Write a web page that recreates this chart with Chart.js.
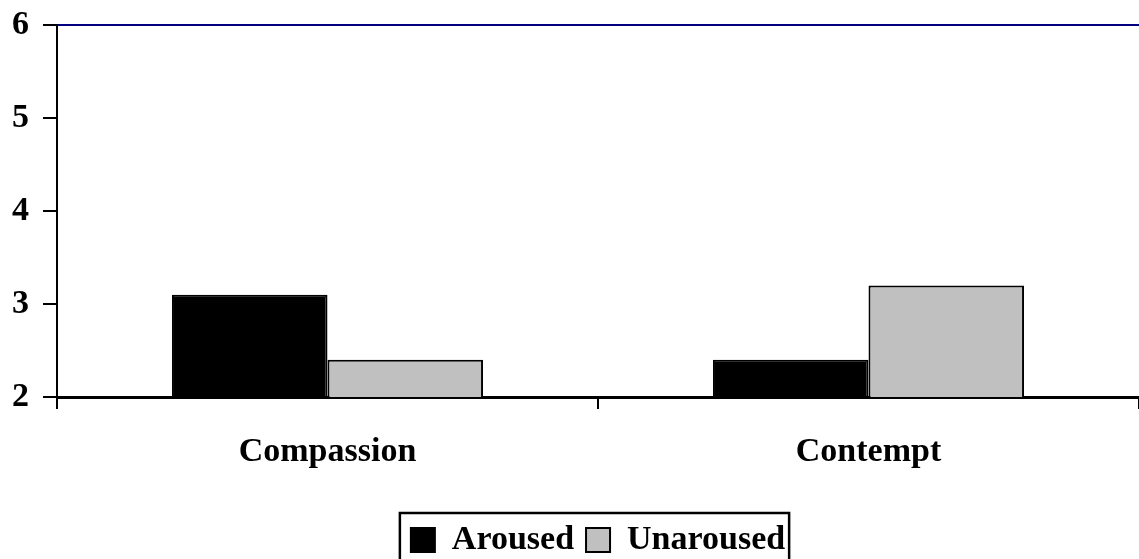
<!DOCTYPE html>
<html>
<head>
<meta charset="utf-8">
<script src="https://cdn.jsdelivr.net/npm/chart.js@4/dist/chart.umd.min.js"></script>
<style>
html,body{margin:0;padding:0;background:#fff;overflow:hidden;}
#wrap{width:1139px;height:559px;position:relative;}
</style>
</head>
<body>
<div id="wrap"><canvas id="c" width="1139" height="559"></canvas></div>
<script>
const categories = ['Compassion', 'Contempt'];
const seriesNames = ['Aroused', 'Unaroused'];
const aroused = [3.1, 2.4];
const unaroused = [2.4, 3.2];
const yTicks = [2, 3, 4, 5, 6];

const FAMILY = "'Liberation Serif', 'Times New Roman', serif";
const FONT = {family: FAMILY, weight: 'bold', size: 34};
const TICKFONT = {family: FAMILY, weight: 'bold', size: 34, lineHeight: 1};
const LEGEND_SHIFT = 16;

const legendTweak = {
  id: 'legendTweak',
  afterLayout(chart) {
    const l = chart.legend;
    if (!l) return;
    l.top += LEGEND_SHIFT;
    l.bottom += LEGEND_SHIFT;
  },
  afterDraw(chart) {
    const l = chart.legend;
    if (!l || !l.legendHitBoxes || !l.legendHitBoxes.length) return;
    const hb = l.legendHitBoxes;
    let minX = Infinity, maxX = -Infinity;
    hb.forEach(b => { minX = Math.min(minX, b.left); maxX = Math.max(maxX, b.left + b.width); });
    const cy = hb[0].top + hb[0].height / 2;
    const ctx = chart.ctx;
    ctx.save();
    ctx.strokeStyle = '#000';
    ctx.lineWidth = 2.5;
    ctx.strokeRect(minX - 11, cy - 27, (maxX - minX) + 15, 80);
    ctx.restore();
  }
};

new Chart(document.getElementById('c'), {
  type: 'bar',
  data: {
    labels: categories,
    datasets: [
      {label: seriesNames[0], data: aroused, backgroundColor: '#000000', borderColor: '#000000', borderWidth: 2, categoryPercentage: 0.575, barPercentage: 1},
      {label: seriesNames[1], data: unaroused, backgroundColor: '#c0c0c0', borderColor: '#000000', borderWidth: 2, categoryPercentage: 0.575, barPercentage: 1}
    ]
  },
  options: {
    responsive: false,
    animation: false,
    layout: {padding: {top: 0, right: 0, left: 0, bottom: 8}},
    plugins: {
      legend: {
        display: true,
        position: 'bottom',
        fullSize: false,
        labels: {
          font: FONT,
          color: '#000',
          boxWidth: 24,
          boxHeight: 24,
          padding: 12,
          generateLabels(chart) {
            return chart.data.datasets.map((d, i) => ({
              text: d.label, fillStyle: d.backgroundColor, strokeStyle: '#000', lineWidth: 2,
              fontColor: '#000', datasetIndex: i, hidden: false
            }));
          }
        }
      },
      tooltip: {enabled: false},
      title: {display: false}
    },
    scales: {
      x: {
        offset: true,
        border: {display: true, color: '#000', width: 3},
        grid: {offset: true, drawOnChartArea: false, drawTicks: true, tickLength: 12, color: '#000', lineWidth: 2},
        ticks: {font: TICKFONT, color: '#000', padding: 26}
      },
      y: {
        min: 2, max: 6,
        afterFit(scale) { scale.width = 57; scale.paddingTop = 25; },
        afterBuildTicks(scale) { scale.ticks = yTicks.map(v => ({value: v})); },
        border: {display: true, color: '#000', width: 2},
        grid: {
          drawTicks: true, tickLength: 14,
          color: (c) => (c.tick && c.tick.value === 6) ? '#000080' : 'rgba(0,0,0,0)',
          tickColor: '#000', lineWidth: 2
        },
        ticks: {font: TICKFONT, color: '#000', padding: 14, stepSize: 1}
      }
    }
  },
  plugins: [legendTweak]
});
</script>
</body>
</html>
